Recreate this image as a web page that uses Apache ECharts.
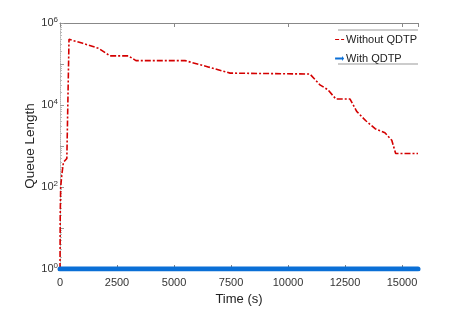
<!DOCTYPE html>
<html><head><meta charset="utf-8">
<script src="https://cdn.jsdelivr.net/npm/echarts@6/dist/echarts.min.js"></script>
<style>html,body{margin:0;padding:0;background:#fff}#c{width:463px;height:311px}</style>
</head><body><div id="c"></div>
<script>
// Data
const withoutTime = [0, 10, 30, 80, 150, 300, 370, 395, 1000, 1700, 2190, 3000, 3330, 5480, 6500, 7460, 10960, 11400, 11750, 12100, 12720, 13010, 13400, 13820, 14250, 14550, 14720, 15700];
const withoutQueue = [1, 20, 100, 200, 400, 500, 520, 400000, 320000, 240000, 158000, 158000, 121000, 121000, 85000, 60000, 57000, 31000, 23500, 14000, 14000, 7000, 4200, 2650, 2100, 1380, 660, 660];
const withTime = [0, 15700];
const withQueue = [1, 1];
const xTicks = [0, 2500, 5000, 7500, 10000, 12500, 15000];
const seriesNames = ['Without QDTP', 'With QDTP'];

const FONT = '"Liberation Sans", Arial, sans-serif';
const chart = echarts.init(document.getElementById('c'), null, {renderer: 'canvas'});
chart.setOption({
  animation: false,
  grid: {left: 60, right: 45, top: 23, bottom: 40},
  legend: {
    orient: 'vertical', right: 46, top: 34, itemGap: 8,
    itemWidth: 9, itemHeight: 8, padding: [0, 0, 0, 0],
    textStyle: {fontFamily: FONT, fontSize: 11, color: '#222', padding: [0, 0, 0, -3]},
    data: [
      {name: seriesNames[0], icon: 'path://M0,4L4,4L4,5L0,5ZM6,4L9,4L9,5L6,5Z', itemStyle: {color: '#d40000'}},
      {name: seriesNames[1], icon: 'path://M0,3.5L7,3.5L7,2L9,4.5L7,7L7,5.5L0,5.5Z', itemStyle: {color: '#0a6fd6'}}
    ]
  },
  graphic: [
    {type: 'line', shape: {x1: 338, y1: 30, x2: 418, y2: 30}, style: {stroke: '#999', lineWidth: 1}},
    {type: 'line', shape: {x1: 338, y1: 64, x2: 418, y2: 64}, style: {stroke: '#999', lineWidth: 1}}
  ],
  xAxis: [{
    type: 'value', min: xTicks[0], max: 15700, interval: 2500,
    name: 'Time (s)', nameLocation: 'middle', nameGap: 23,
    nameTextStyle: {fontFamily: FONT, fontSize: 13, color: '#222'},
    axisLine: {show: true, lineStyle: {color: '#777'}},
    axisTick: {show: true, inside: true, length: 4, lineStyle: {color: '#777'}},
    axisLabel: {fontFamily: FONT, fontSize: 11, color: '#333', margin: 8, showMaxLabel: false,
      formatter: v => xTicks.indexOf(v) >= 0 ? String(v) : ''},
    splitLine: {show: false}
  }, {
    type: 'value', position: 'top', min: 0, max: 15700, interval: 5000,
    axisLine: {show: true, lineStyle: {color: '#888'}},
    axisTick: {show: true, inside: true, length: 4, lineStyle: {color: '#888'}},
    axisLabel: {show: false}, splitLine: {show: false}
  }],
  yAxis: [{
    type: 'log', logBase: 10, min: 1, max: 1000000,
    name: 'Queue Length', nameLocation: 'middle', nameGap: 23, nameMoveOverlap: false,
    nameTextStyle: {fontFamily: FONT, fontSize: 13.5, color: '#222'},
    axisLine: {show: true, lineStyle: {color: '#888'}},
    axisTick: {show: true, inside: true, length: 4, lineStyle: {color: '#999'}},
    minorTick: {show: true, splitNumber: 9, length: 2, lineStyle: {color: '#bbb'}},
    axisLabel: {
      margin: 2, color: '#333', fontFamily: FONT, fontSize: 11,
      formatter: v => {
        const e = Math.round(Math.log10(v));
        if (e % 2 !== 0) return '';
        return '{b|10}{s|' + e + '}';
      },
      rich: {
        b: {fontFamily: FONT, fontSize: 11, color: '#333'},
        s: {fontFamily: FONT, fontSize: 8, color: '#333', verticalAlign: 'top', padding: [0, 0, 7, 0]}
      }
    },
    splitLine: {show: false}
  }, {
    type: 'log', logBase: 10, min: 1, max: 1000000, position: 'right',
    axisLine: {show: true, lineStyle: {color: '#ccc', type: 'dotted'}},
    axisTick: {show: false}, axisLabel: {show: false}, splitLine: {show: false}
  }],
  series: [{
    name: seriesNames[0], type: 'line', symbol: 'none',
    data: withoutTime.map((t, i) => [t, withoutQueue[i]]),
    lineStyle: {color: '#d40000', width: 1.6, type: [6, 2, 2, 2]},
    itemStyle: {color: '#d40000'}, z: 3
  }, {
    name: seriesNames[1], type: 'line', symbol: 'none',
    data: withTime.map((t, i) => [t, withQueue[i]]),
    lineStyle: {color: '#0a6fd6', width: 5, cap: 'round'},
    itemStyle: {color: '#0a6fd6'}, z: 4
  }]
});
</script></body></html>
